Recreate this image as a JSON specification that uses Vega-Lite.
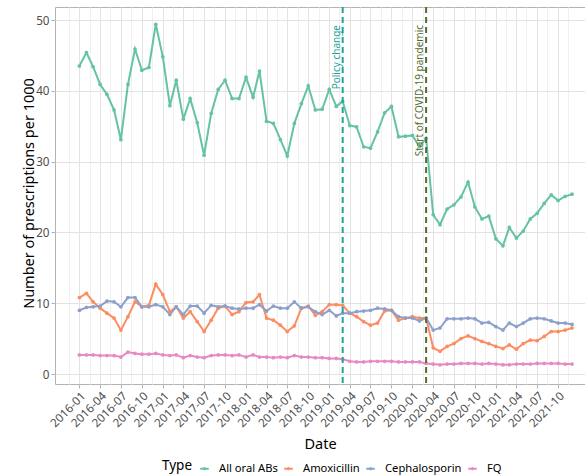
{
"$schema": "https://vega.github.io/schema/vega-lite/v6.json",
"width": 530, "height": 377,
"autosize": {"type": "none"},
"padding": {"left": 55, "top": 7, "right": 0, "bottom": 91},
"background": "white",
"config": {"font": "Noto Sans", "view": {"stroke": "#b3b3b3", "strokeWidth": 1}},
"datasets": {
"events": [{"Date": "2019-03-01", "Event": "Policy change"}, {"Date": "2020-03-01", "Event": "Start of COVID-19 pandemic"}],
"rx": [
{"Date":"2016-01-01","Type":"All oral ABs","Value":43.5},{"Date":"2016-02-01","Type":"All oral ABs","Value":45.4},{"Date":"2016-03-01","Type":"All oral ABs","Value":43.4},{"Date":"2016-04-01","Type":"All oral ABs","Value":40.9},{"Date":"2016-05-01","Type":"All oral ABs","Value":39.5},{"Date":"2016-06-01","Type":"All oral ABs","Value":37.3},{"Date":"2016-07-01","Type":"All oral ABs","Value":33.1},{"Date":"2016-08-01","Type":"All oral ABs","Value":40.9},{"Date":"2016-09-01","Type":"All oral ABs","Value":45.9},{"Date":"2016-10-01","Type":"All oral ABs","Value":42.9},{"Date":"2016-11-01","Type":"All oral ABs","Value":43.3},{"Date":"2016-12-01","Type":"All oral ABs","Value":49.4},
{"Date":"2017-01-01","Type":"All oral ABs","Value":44.8},{"Date":"2017-02-01","Type":"All oral ABs","Value":37.9},{"Date":"2017-03-01","Type":"All oral ABs","Value":41.5},{"Date":"2017-04-01","Type":"All oral ABs","Value":36.0},{"Date":"2017-05-01","Type":"All oral ABs","Value":38.9},{"Date":"2017-06-01","Type":"All oral ABs","Value":35.5},{"Date":"2017-07-01","Type":"All oral ABs","Value":30.9},{"Date":"2017-08-01","Type":"All oral ABs","Value":36.8},{"Date":"2017-09-01","Type":"All oral ABs","Value":40.2},{"Date":"2017-10-01","Type":"All oral ABs","Value":41.5},{"Date":"2017-11-01","Type":"All oral ABs","Value":38.9},{"Date":"2017-12-01","Type":"All oral ABs","Value":38.9},
{"Date":"2018-01-01","Type":"All oral ABs","Value":41.9},{"Date":"2018-02-01","Type":"All oral ABs","Value":39.1},{"Date":"2018-03-01","Type":"All oral ABs","Value":42.8},{"Date":"2018-04-01","Type":"All oral ABs","Value":35.7},{"Date":"2018-05-01","Type":"All oral ABs","Value":35.4},{"Date":"2018-06-01","Type":"All oral ABs","Value":33.1},{"Date":"2018-07-01","Type":"All oral ABs","Value":30.8},{"Date":"2018-08-01","Type":"All oral ABs","Value":35.4},{"Date":"2018-09-01","Type":"All oral ABs","Value":38.2},{"Date":"2018-10-01","Type":"All oral ABs","Value":40.7},{"Date":"2018-11-01","Type":"All oral ABs","Value":37.3},{"Date":"2018-12-01","Type":"All oral ABs","Value":37.4},
{"Date":"2019-01-01","Type":"All oral ABs","Value":40.2},{"Date":"2019-02-01","Type":"All oral ABs","Value":37.8},{"Date":"2019-03-01","Type":"All oral ABs","Value":38.5},{"Date":"2019-04-01","Type":"All oral ABs","Value":35.1},{"Date":"2019-05-01","Type":"All oral ABs","Value":34.9},{"Date":"2019-06-01","Type":"All oral ABs","Value":32.1},{"Date":"2019-07-01","Type":"All oral ABs","Value":31.9},{"Date":"2019-08-01","Type":"All oral ABs","Value":34.2},{"Date":"2019-09-01","Type":"All oral ABs","Value":36.9},{"Date":"2019-10-01","Type":"All oral ABs","Value":37.8},{"Date":"2019-11-01","Type":"All oral ABs","Value":33.5},{"Date":"2019-12-01","Type":"All oral ABs","Value":33.6},
{"Date":"2020-01-01","Type":"All oral ABs","Value":33.7},{"Date":"2020-02-01","Type":"All oral ABs","Value":32.1},{"Date":"2020-03-01","Type":"All oral ABs","Value":33.3},{"Date":"2020-04-01","Type":"All oral ABs","Value":22.5},{"Date":"2020-05-01","Type":"All oral ABs","Value":21.1},{"Date":"2020-06-01","Type":"All oral ABs","Value":23.3},{"Date":"2020-07-01","Type":"All oral ABs","Value":23.9},{"Date":"2020-08-01","Type":"All oral ABs","Value":25.0},{"Date":"2020-09-01","Type":"All oral ABs","Value":27.1},{"Date":"2020-10-01","Type":"All oral ABs","Value":23.6},{"Date":"2020-11-01","Type":"All oral ABs","Value":21.9},{"Date":"2020-12-01","Type":"All oral ABs","Value":22.3},
{"Date":"2021-01-01","Type":"All oral ABs","Value":19.1},{"Date":"2021-02-01","Type":"All oral ABs","Value":18.1},{"Date":"2021-03-01","Type":"All oral ABs","Value":20.7},{"Date":"2021-04-01","Type":"All oral ABs","Value":19.2},{"Date":"2021-05-01","Type":"All oral ABs","Value":20.2},{"Date":"2021-06-01","Type":"All oral ABs","Value":21.9},{"Date":"2021-07-01","Type":"All oral ABs","Value":22.7},{"Date":"2021-08-01","Type":"All oral ABs","Value":24.1},{"Date":"2021-09-01","Type":"All oral ABs","Value":25.3},{"Date":"2021-10-01","Type":"All oral ABs","Value":24.5},{"Date":"2021-11-01","Type":"All oral ABs","Value":25.1},{"Date":"2021-12-01","Type":"All oral ABs","Value":25.4},
{"Date":"2016-01-01","Type":"Amoxicillin","Value":10.8},{"Date":"2016-02-01","Type":"Amoxicillin","Value":11.4},{"Date":"2016-03-01","Type":"Amoxicillin","Value":10.2},{"Date":"2016-04-01","Type":"Amoxicillin","Value":9.3},{"Date":"2016-05-01","Type":"Amoxicillin","Value":8.6},{"Date":"2016-06-01","Type":"Amoxicillin","Value":7.9},{"Date":"2016-07-01","Type":"Amoxicillin","Value":6.2},{"Date":"2016-08-01","Type":"Amoxicillin","Value":8.1},{"Date":"2016-09-01","Type":"Amoxicillin","Value":10.2},{"Date":"2016-10-01","Type":"Amoxicillin","Value":9.5},{"Date":"2016-11-01","Type":"Amoxicillin","Value":9.7},{"Date":"2016-12-01","Type":"Amoxicillin","Value":12.7},
{"Date":"2017-01-01","Type":"Amoxicillin","Value":11.2},{"Date":"2017-02-01","Type":"Amoxicillin","Value":8.8},{"Date":"2017-03-01","Type":"Amoxicillin","Value":9.5},{"Date":"2017-04-01","Type":"Amoxicillin","Value":7.9},{"Date":"2017-05-01","Type":"Amoxicillin","Value":8.8},{"Date":"2017-06-01","Type":"Amoxicillin","Value":7.4},{"Date":"2017-07-01","Type":"Amoxicillin","Value":6.0},{"Date":"2017-08-01","Type":"Amoxicillin","Value":7.6},{"Date":"2017-09-01","Type":"Amoxicillin","Value":9.3},{"Date":"2017-10-01","Type":"Amoxicillin","Value":9.6},{"Date":"2017-11-01","Type":"Amoxicillin","Value":8.4},{"Date":"2017-12-01","Type":"Amoxicillin","Value":8.8},
{"Date":"2018-01-01","Type":"Amoxicillin","Value":10.1},{"Date":"2018-02-01","Type":"Amoxicillin","Value":10.2},{"Date":"2018-03-01","Type":"Amoxicillin","Value":11.2},{"Date":"2018-04-01","Type":"Amoxicillin","Value":7.9},{"Date":"2018-05-01","Type":"Amoxicillin","Value":7.6},{"Date":"2018-06-01","Type":"Amoxicillin","Value":6.9},{"Date":"2018-07-01","Type":"Amoxicillin","Value":6.0},{"Date":"2018-08-01","Type":"Amoxicillin","Value":6.8},{"Date":"2018-09-01","Type":"Amoxicillin","Value":9.3},{"Date":"2018-10-01","Type":"Amoxicillin","Value":9.6},{"Date":"2018-11-01","Type":"Amoxicillin","Value":8.3},{"Date":"2018-12-01","Type":"Amoxicillin","Value":8.8},
{"Date":"2019-01-01","Type":"Amoxicillin","Value":9.8},{"Date":"2019-02-01","Type":"Amoxicillin","Value":9.8},{"Date":"2019-03-01","Type":"Amoxicillin","Value":9.7},{"Date":"2019-04-01","Type":"Amoxicillin","Value":8.6},{"Date":"2019-05-01","Type":"Amoxicillin","Value":8.1},{"Date":"2019-06-01","Type":"Amoxicillin","Value":7.4},{"Date":"2019-07-01","Type":"Amoxicillin","Value":6.9},{"Date":"2019-08-01","Type":"Amoxicillin","Value":7.2},{"Date":"2019-09-01","Type":"Amoxicillin","Value":8.9},{"Date":"2019-10-01","Type":"Amoxicillin","Value":9.0},{"Date":"2019-11-01","Type":"Amoxicillin","Value":7.6},{"Date":"2019-12-01","Type":"Amoxicillin","Value":7.9},
{"Date":"2020-01-01","Type":"Amoxicillin","Value":8.1},{"Date":"2020-02-01","Type":"Amoxicillin","Value":7.9},{"Date":"2020-03-01","Type":"Amoxicillin","Value":7.9},{"Date":"2020-04-01","Type":"Amoxicillin","Value":3.7},{"Date":"2020-05-01","Type":"Amoxicillin","Value":3.2},{"Date":"2020-06-01","Type":"Amoxicillin","Value":3.9},{"Date":"2020-07-01","Type":"Amoxicillin","Value":4.3},{"Date":"2020-08-01","Type":"Amoxicillin","Value":5.0},{"Date":"2020-09-01","Type":"Amoxicillin","Value":5.4},{"Date":"2020-10-01","Type":"Amoxicillin","Value":5.0},{"Date":"2020-11-01","Type":"Amoxicillin","Value":4.6},{"Date":"2020-12-01","Type":"Amoxicillin","Value":4.3},
{"Date":"2021-01-01","Type":"Amoxicillin","Value":3.9},{"Date":"2021-02-01","Type":"Amoxicillin","Value":3.6},{"Date":"2021-03-01","Type":"Amoxicillin","Value":4.1},{"Date":"2021-04-01","Type":"Amoxicillin","Value":3.5},{"Date":"2021-05-01","Type":"Amoxicillin","Value":4.3},{"Date":"2021-06-01","Type":"Amoxicillin","Value":4.8},{"Date":"2021-07-01","Type":"Amoxicillin","Value":4.7},{"Date":"2021-08-01","Type":"Amoxicillin","Value":5.3},{"Date":"2021-09-01","Type":"Amoxicillin","Value":6.0},{"Date":"2021-10-01","Type":"Amoxicillin","Value":6.0},{"Date":"2021-11-01","Type":"Amoxicillin","Value":6.2},{"Date":"2021-12-01","Type":"Amoxicillin","Value":6.5},
{"Date":"2016-01-01","Type":"Cephalosporin","Value":9.0},{"Date":"2016-02-01","Type":"Cephalosporin","Value":9.4},{"Date":"2016-03-01","Type":"Cephalosporin","Value":9.5},{"Date":"2016-04-01","Type":"Cephalosporin","Value":9.6},{"Date":"2016-05-01","Type":"Cephalosporin","Value":10.3},{"Date":"2016-06-01","Type":"Cephalosporin","Value":10.2},{"Date":"2016-07-01","Type":"Cephalosporin","Value":9.5},{"Date":"2016-08-01","Type":"Cephalosporin","Value":10.8},{"Date":"2016-09-01","Type":"Cephalosporin","Value":10.8},{"Date":"2016-10-01","Type":"Cephalosporin","Value":9.5},{"Date":"2016-11-01","Type":"Cephalosporin","Value":9.5},{"Date":"2016-12-01","Type":"Cephalosporin","Value":9.8},
{"Date":"2017-01-01","Type":"Cephalosporin","Value":9.5},{"Date":"2017-02-01","Type":"Cephalosporin","Value":8.4},{"Date":"2017-03-01","Type":"Cephalosporin","Value":9.5},{"Date":"2017-04-01","Type":"Cephalosporin","Value":8.4},{"Date":"2017-05-01","Type":"Cephalosporin","Value":9.6},{"Date":"2017-06-01","Type":"Cephalosporin","Value":9.6},{"Date":"2017-07-01","Type":"Cephalosporin","Value":8.6},{"Date":"2017-08-01","Type":"Cephalosporin","Value":9.7},{"Date":"2017-09-01","Type":"Cephalosporin","Value":9.5},{"Date":"2017-10-01","Type":"Cephalosporin","Value":9.6},{"Date":"2017-11-01","Type":"Cephalosporin","Value":9.3},{"Date":"2017-12-01","Type":"Cephalosporin","Value":9.2},
{"Date":"2018-01-01","Type":"Cephalosporin","Value":9.3},{"Date":"2018-02-01","Type":"Cephalosporin","Value":9.3},{"Date":"2018-03-01","Type":"Cephalosporin","Value":9.8},{"Date":"2018-04-01","Type":"Cephalosporin","Value":8.9},{"Date":"2018-05-01","Type":"Cephalosporin","Value":9.6},{"Date":"2018-06-01","Type":"Cephalosporin","Value":9.3},{"Date":"2018-07-01","Type":"Cephalosporin","Value":9.3},{"Date":"2018-08-01","Type":"Cephalosporin","Value":10.2},{"Date":"2018-09-01","Type":"Cephalosporin","Value":9.3},{"Date":"2018-10-01","Type":"Cephalosporin","Value":9.5},{"Date":"2018-11-01","Type":"Cephalosporin","Value":8.8},{"Date":"2018-12-01","Type":"Cephalosporin","Value":8.4},
{"Date":"2019-01-01","Type":"Cephalosporin","Value":9.0},{"Date":"2019-02-01","Type":"Cephalosporin","Value":8.2},{"Date":"2019-03-01","Type":"Cephalosporin","Value":8.6},{"Date":"2019-04-01","Type":"Cephalosporin","Value":8.6},{"Date":"2019-05-01","Type":"Cephalosporin","Value":8.8},{"Date":"2019-06-01","Type":"Cephalosporin","Value":8.9},{"Date":"2019-07-01","Type":"Cephalosporin","Value":9.0},{"Date":"2019-08-01","Type":"Cephalosporin","Value":9.3},{"Date":"2019-09-01","Type":"Cephalosporin","Value":9.2},{"Date":"2019-10-01","Type":"Cephalosporin","Value":9.0},{"Date":"2019-11-01","Type":"Cephalosporin","Value":8.1},{"Date":"2019-12-01","Type":"Cephalosporin","Value":7.9},
{"Date":"2020-01-01","Type":"Cephalosporin","Value":7.9},{"Date":"2020-02-01","Type":"Cephalosporin","Value":7.5},{"Date":"2020-03-01","Type":"Cephalosporin","Value":7.9},{"Date":"2020-04-01","Type":"Cephalosporin","Value":6.2},{"Date":"2020-05-01","Type":"Cephalosporin","Value":6.5},{"Date":"2020-06-01","Type":"Cephalosporin","Value":7.8},{"Date":"2020-07-01","Type":"Cephalosporin","Value":7.8},{"Date":"2020-08-01","Type":"Cephalosporin","Value":7.8},{"Date":"2020-09-01","Type":"Cephalosporin","Value":7.9},{"Date":"2020-10-01","Type":"Cephalosporin","Value":7.8},{"Date":"2020-11-01","Type":"Cephalosporin","Value":7.2},{"Date":"2020-12-01","Type":"Cephalosporin","Value":7.3},
{"Date":"2021-01-01","Type":"Cephalosporin","Value":6.7},{"Date":"2021-02-01","Type":"Cephalosporin","Value":6.2},{"Date":"2021-03-01","Type":"Cephalosporin","Value":7.2},{"Date":"2021-04-01","Type":"Cephalosporin","Value":6.7},{"Date":"2021-05-01","Type":"Cephalosporin","Value":7.2},{"Date":"2021-06-01","Type":"Cephalosporin","Value":7.8},{"Date":"2021-07-01","Type":"Cephalosporin","Value":7.9},{"Date":"2021-08-01","Type":"Cephalosporin","Value":7.8},{"Date":"2021-09-01","Type":"Cephalosporin","Value":7.5},{"Date":"2021-10-01","Type":"Cephalosporin","Value":7.2},{"Date":"2021-11-01","Type":"Cephalosporin","Value":7.2},{"Date":"2021-12-01","Type":"Cephalosporin","Value":7.0},
{"Date":"2016-01-01","Type":"FQ","Value":2.7},{"Date":"2016-02-01","Type":"FQ","Value":2.7},{"Date":"2016-03-01","Type":"FQ","Value":2.7},{"Date":"2016-04-01","Type":"FQ","Value":2.6},{"Date":"2016-05-01","Type":"FQ","Value":2.6},{"Date":"2016-06-01","Type":"FQ","Value":2.6},{"Date":"2016-07-01","Type":"FQ","Value":2.4},{"Date":"2016-08-01","Type":"FQ","Value":3.1},{"Date":"2016-09-01","Type":"FQ","Value":2.9},{"Date":"2016-10-01","Type":"FQ","Value":2.8},{"Date":"2016-11-01","Type":"FQ","Value":2.8},{"Date":"2016-12-01","Type":"FQ","Value":2.9},
{"Date":"2017-01-01","Type":"FQ","Value":2.7},{"Date":"2017-02-01","Type":"FQ","Value":2.6},{"Date":"2017-03-01","Type":"FQ","Value":2.7},{"Date":"2017-04-01","Type":"FQ","Value":2.3},{"Date":"2017-05-01","Type":"FQ","Value":2.6},{"Date":"2017-06-01","Type":"FQ","Value":2.4},{"Date":"2017-07-01","Type":"FQ","Value":2.3},{"Date":"2017-08-01","Type":"FQ","Value":2.6},{"Date":"2017-09-01","Type":"FQ","Value":2.7},{"Date":"2017-10-01","Type":"FQ","Value":2.7},{"Date":"2017-11-01","Type":"FQ","Value":2.6},{"Date":"2017-12-01","Type":"FQ","Value":2.7},
{"Date":"2018-01-01","Type":"FQ","Value":2.4},{"Date":"2018-02-01","Type":"FQ","Value":2.7},{"Date":"2018-03-01","Type":"FQ","Value":2.4},{"Date":"2018-04-01","Type":"FQ","Value":2.4},{"Date":"2018-05-01","Type":"FQ","Value":2.3},{"Date":"2018-06-01","Type":"FQ","Value":2.4},{"Date":"2018-07-01","Type":"FQ","Value":2.3},{"Date":"2018-08-01","Type":"FQ","Value":2.6},{"Date":"2018-09-01","Type":"FQ","Value":2.4},{"Date":"2018-10-01","Type":"FQ","Value":2.4},{"Date":"2018-11-01","Type":"FQ","Value":2.3},{"Date":"2018-12-01","Type":"FQ","Value":2.3},
{"Date":"2019-01-01","Type":"FQ","Value":2.2},{"Date":"2019-02-01","Type":"FQ","Value":2.2},{"Date":"2019-03-01","Type":"FQ","Value":2.1},{"Date":"2019-04-01","Type":"FQ","Value":1.8},{"Date":"2019-05-01","Type":"FQ","Value":1.7},{"Date":"2019-06-01","Type":"FQ","Value":1.7},{"Date":"2019-07-01","Type":"FQ","Value":1.8},{"Date":"2019-08-01","Type":"FQ","Value":1.8},{"Date":"2019-09-01","Type":"FQ","Value":1.8},{"Date":"2019-10-01","Type":"FQ","Value":1.8},{"Date":"2019-11-01","Type":"FQ","Value":1.7},{"Date":"2019-12-01","Type":"FQ","Value":1.7},
{"Date":"2020-01-01","Type":"FQ","Value":1.7},{"Date":"2020-02-01","Type":"FQ","Value":1.7},{"Date":"2020-03-01","Type":"FQ","Value":1.5},{"Date":"2020-04-01","Type":"FQ","Value":1.4},{"Date":"2020-05-01","Type":"FQ","Value":1.3},{"Date":"2020-06-01","Type":"FQ","Value":1.4},{"Date":"2020-07-01","Type":"FQ","Value":1.4},{"Date":"2020-08-01","Type":"FQ","Value":1.5},{"Date":"2020-09-01","Type":"FQ","Value":1.5},{"Date":"2020-10-01","Type":"FQ","Value":1.5},{"Date":"2020-11-01","Type":"FQ","Value":1.4},{"Date":"2020-12-01","Type":"FQ","Value":1.5},
{"Date":"2021-01-01","Type":"FQ","Value":1.4},{"Date":"2021-02-01","Type":"FQ","Value":1.3},{"Date":"2021-03-01","Type":"FQ","Value":1.3},{"Date":"2021-04-01","Type":"FQ","Value":1.4},{"Date":"2021-05-01","Type":"FQ","Value":1.4},{"Date":"2021-06-01","Type":"FQ","Value":1.4},{"Date":"2021-07-01","Type":"FQ","Value":1.5},{"Date":"2021-08-01","Type":"FQ","Value":1.5},{"Date":"2021-09-01","Type":"FQ","Value":1.5},{"Date":"2021-10-01","Type":"FQ","Value":1.5},{"Date":"2021-11-01","Type":"FQ","Value":1.4},{"Date":"2021-12-01","Type":"FQ","Value":1.4}
]},
"layer": [
{
"data": {"name": "rx"},
"mark": {"type": "line", "strokeWidth": 2, "point": {"filled": true, "size": 14}},
"encoding": {
"x": {"field": "Date", "type": "temporal", "title": "Date",
 "scale": {"type": "utc", "domain": ["2015-09-16", "2022-01-27"]},
 "axis": {
  "tickCount": {"interval": "month", "step": 3},
  "format": "%Y-%m",
  "labelExpr": "datum.value > 1450000000000 && datum.value < 1640000000000 ? datum.label : ''",
  "labelAngle": -45, "labelAlign": "right", "labelBaseline": "top", "labelOverlap": false, "labelBound": false,
  "labelFontSize": 11.7, "labelColor": "#4d4d4d", "labelPadding": 2,
  "domain": false, "tickColor": "#b3b3b3", "tickSize": 4,
  "tickOpacity": {"condition": {"test": "datum.value > 1450000000000 && datum.value < 1640000000000", "value": 1}, "value": 0},
  "grid": true, "gridColor": "#e3e3e3", "gridWidth": 1,
  "gridOpacity": {"condition": {"test": "datum.value > 1450000000000 && datum.value < 1640000000000", "value": 1}, "value": 0},
  "titleFontSize": 14.5, "titleFontWeight": "normal", "titleColor": "#000000", "titlePadding": 8
 }},
"y": {"field": "Value", "type": "quantitative", "title": "Number of prescriptions per 1000",
 "scale": {"domain": [-1.41, 51.84], "nice": false, "zero": false},
 "axis": {
  "values": [0, 5, 10, 15, 20, 25, 30, 35, 40, 45, 50],
  "labelExpr": "datum.value % 10 == 0 ? datum.label : ''",
  "labelFontSize": 11.7, "labelColor": "#4d4d4d", "labelPadding": 2,
  "domain": false, "tickColor": "#b3b3b3", "tickSize": 4,
  "tickOpacity": {"condition": {"test": "datum.value % 10 == 0", "value": 1}, "value": 0},
  "grid": true,
  "gridColor": {"condition": {"test": "datum.value % 10 == 0", "value": "#e3e3e3"}, "value": "#f0f0f0"},
  "gridWidth": 1,
  "titleFontSize": 14.5, "titleFontWeight": "normal", "titleColor": "#000000",
  "titleX": -19, "titleY": 186, "titleAngle": 270, "titleBaseline": "bottom", "titleAlign": "center"
 }},
"color": {"field": "Type", "type": "nominal", "title": "Type",
 "scale": {"domain": ["All oral ABs", "Amoxicillin", "Cephalosporin", "FQ"], "range": ["#66c2a5", "#fc8d62", "#8da0cb", "#e78ac3"]},
 "legend": {"orient": "none", "legendX": 107, "legendY": 452, "direction": "horizontal", "titleOrient": "left",
  "titleFontSize": 13.5, "titleFontWeight": "normal", "titleColor": "#000000", "titleBaseline": "middle", "titlePadding": 2,
  "labelFontSize": 11.2, "labelColor": "#000000", "labelOffset": 5, "columnPadding": 1,
  "symbolType": "M-0.5,0H0.5M-0.07,0A0.07,0.07 0 1,0 0.07,0A0.07,0.07 0 1,0 -0.07,0",
  "symbolSize": 289, "symbolStrokeWidth": 2}}
}
},
{
"data": {"name": "events"},
"mark": {"type": "rule", "strokeWidth": 2, "strokeDash": [6, 4]},
"encoding": {
 "x": {"field": "Date", "type": "temporal",
  "axis": {"orient": "top", "values": [1447545600000, 1455494400000, 1463270400000, 1471219200000, 1479168000000, 1487116800000, 1494806400000, 1502755200000, 1510704000000, 1518652800000, 1526342400000, 1534291200000, 1542240000000, 1550188800000, 1557878400000, 1565827200000, 1573776000000, 1581724800000, 1589500800000, 1597449600000, 1605398400000, 1613347200000, 1621036800000, 1628985600000, 1636934400000],
   "labels": false, "ticks": false, "domain": false, "title": null, "grid": true, "gridColor": "#f0f0f0", "gridWidth": 1}},
 "stroke": {"field": "Event", "type": "nominal", "legend": null, "scale": {"domain": ["Policy change", "Start of COVID-19 pandemic"], "range": ["#1fa39d", "#556b2f"]}}
}
},
{
"data": {"name": "events"},
"mark": {"type": "text", "angle": 270, "align": "right", "baseline": "bottom", "dy": -1, "fontSize": 10},
"encoding": {
 "x": {"field": "Date", "type": "temporal", "axis": null},
 "y": {"datum": 49.3},
 "text": {"field": "Event"},
 "color": {"field": "Event", "type": "nominal", "legend": null, "scale": {"domain": ["Policy change", "Start of COVID-19 pandemic"], "range": ["#1fa39d", "#556b2f"]}}
}
}
],
"resolve": {"scale": {"color": "independent", "stroke": "independent"}, "axis": {"x": "independent"}}
}
